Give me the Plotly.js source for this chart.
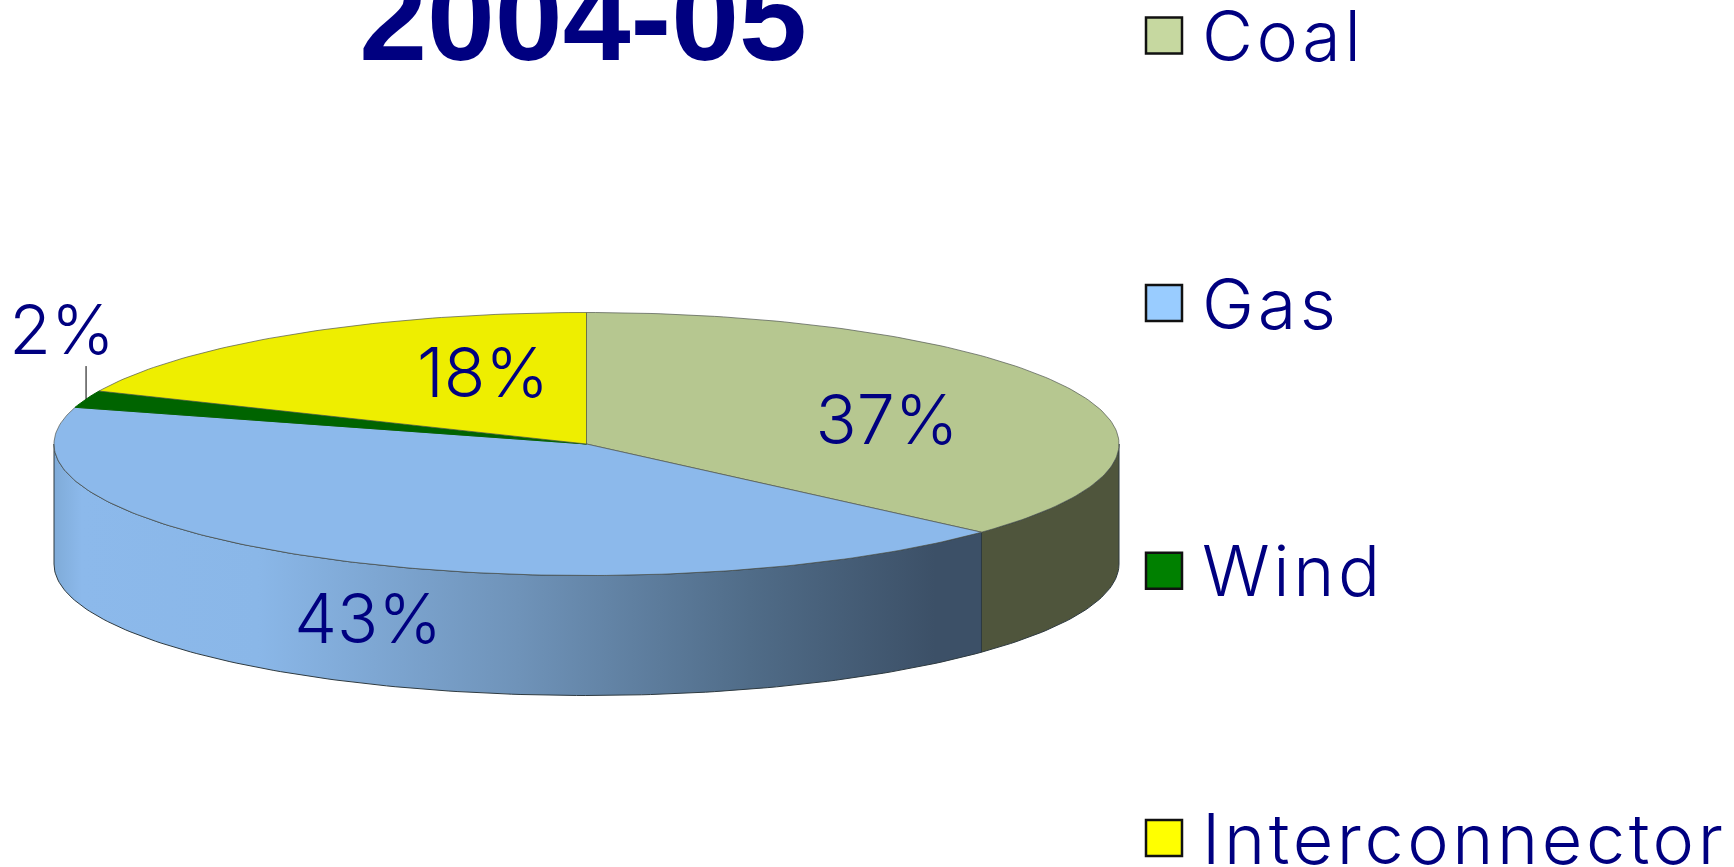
<!DOCTYPE html>
<html>
<head>
<meta charset="utf-8">
<script src="https://cdn.plot.ly/plotly-3.0.1.min.js"></script>
<style>
html,body{margin:0;padding:0;background:#fff;overflow:hidden}
#chart{width:1734px;height:867px}
.scatterlayer .trace:last-child text{letter-spacing:3.6px}
</style>
</head>
<body>
<div id="chart"></div>
<script>
// ---- data ----
const categories = ['Coal', 'Gas', 'Wind', 'Interconnector'];
const shares = [36.7, 42.8, 2.1, 18.4];
const sliceLabels = ['37%', '43%', '2%', '18%'];
const chartTitle = '2004-05';

// ---- styles ----
const topColors = ['#B6C790', '#8CB9EB', '#006400', '#EEEE00'];
const legendColors = ['#C6D8A0', '#99CCFF', '#008000', '#FFFF00'];
const coalSide = '#4F553C';
const gasSideScale = [[0, '#7FABD8'], [0.03, '#8CB9EB'], [0.22, '#8AB7E8'], [0.5, '#6F93B9'], [0.75, '#506C88'], [0.95, '#3C5067'], [1, '#3C5067']];
const navy = '#000080';
const bodyFont = 'Inter, "Noto Sans", sans-serif';
const labelSize = 68;
const legendSize = 70;

// ---- geometry of the page ----
const W = 1734, H = 867, CX = 586.5, CY = 444, RX = 532.5, RY = 131.5, DEPTH = 120;
const px2x = p => (p - CX) / RX;
const py2y = p => (CY - p) / RY;
const depthU = DEPTH / RY;
const labelPx = [[887, 427], [368, 626], [62, 337], [483, 380]];
const legendX = 1164, legendTextX = 1184;
const legendY = [35.5, 303, 570.7, 838];
const legendTextY = [43, 311, 578.7, 846];

// clockwise angle from top, in degrees, for cumulative share
const total = shares.reduce((a, b) => a + b, 0);
const cum = [0];
shares.forEach((v, i) => cum.push(cum[i] + v / total * 360));
const rad = d => d * Math.PI / 180;
function arc(a0, a1, drop) {
  const n = Math.max(2, Math.ceil(Math.abs(a1 - a0)));
  const xs = [], ys = [];
  for (let k = 0; k <= n; k++) {
    const a = rad(a0 + (a1 - a0) * k / n);
    xs.push(Math.sin(a));
    ys.push(Math.cos(a) - drop);
  }
  return [xs, ys];
}
function sideTrace(a0, a1, extra) {
  const [x1, y1] = arc(a0, a1, 0);
  const [x2, y2] = arc(a1, a0, depthU);
  return Object.assign({
    type: 'scatter', mode: 'lines', x: x1.concat(x2, [x1[0]]), y: y1.concat(y2, [y1[0]]),
    fill: 'toself', line: {color: '#2E3A40', width: 1}, hoverinfo: 'skip', showlegend: false
  }, extra);
}
const traces = [];
// side walls (visible front half only)
traces.push(sideTrace(90, cum[1], {fillcolor: coalSide, name: categories[0] + ' side'}));
traces.push(sideTrace(cum[1], 270, {
  name: categories[1] + ' side', fillcolor: '#6F93B9',
  fillgradient: {type: 'horizontal', colorscale: gasSideScale}
}));
// top faces
categories.forEach((c, i) => {
  const [xs, ys] = arc(cum[i], cum[i + 1], 0);
  traces.push({
    type: 'scatter', mode: 'lines', name: c,
    x: [0].concat(xs, [0]), y: [0].concat(ys, [0]),
    fill: 'toself', fillcolor: topColors[i],
    line: {color: i === 2 ? topColors[2] : 'rgba(80,85,80,0.7)', width: 1},
    hoverinfo: 'name', showlegend: false
  });
});
// leader line for the smallest slice
const windMid = rad((cum[2] + cum[3]) / 2);
traces.push({
  type: 'scatter', mode: 'lines', hoverinfo: 'skip', showlegend: false,
  x: [Math.sin(windMid), Math.sin(windMid)],
  y: [Math.cos(windMid), Math.cos(windMid) + 33 / RY],
  line: {color: '#000', width: 1}
});
// slice labels
traces.push({
  type: 'scatter', mode: 'text', hoverinfo: 'skip', showlegend: false,
  x: labelPx.map(p => px2x(p[0])), y: labelPx.map(p => py2y(p[1])),
  text: sliceLabels, textposition: 'middle center',
  textfont: {family: bodyFont, size: labelSize, color: navy, weight: 300}
});
// legend keys and texts
traces.push({
  type: 'scatter', mode: 'markers', hoverinfo: 'skip', showlegend: false,
  x: categories.map(() => px2x(legendX)), y: legendY.map(py2y),
  marker: {symbol: 'square', size: 36, color: legendColors, line: {color: '#111', width: 2.5}}
});
traces.push({
  type: 'scatter', mode: 'text', hoverinfo: 'skip', showlegend: false,
  x: categories.map(() => px2x(legendTextX + 18)), y: legendTextY.map(py2y),
  text: categories, textposition: 'middle right',
  textfont: {family: bodyFont, size: legendSize, color: navy, weight: 300}
});

const layout = {
  width: W, height: H, margin: {l: 0, r: 0, t: 0, b: 0},
  paper_bgcolor: '#fff', plot_bgcolor: '#fff', showlegend: false,
  title: {
    text: '<b>' + chartTitle + '</b>', x: 583 / W, xanchor: 'center',
    y: 1 - 60 / H, yanchor: 'bottom', yref: 'container', automargin: false,
    font: {family: '"Liberation Sans", Arial, sans-serif', size: 122, color: navy}
  },
  xaxis: {visible: false, range: [px2x(0), px2x(W)], fixedrange: true},
  yaxis: {visible: false, range: [py2y(H), py2y(0)], fixedrange: true}
};
Plotly.newPlot('chart', traces, layout, {displayModeBar: false, responsive: false});
</script>
</body>
</html>
